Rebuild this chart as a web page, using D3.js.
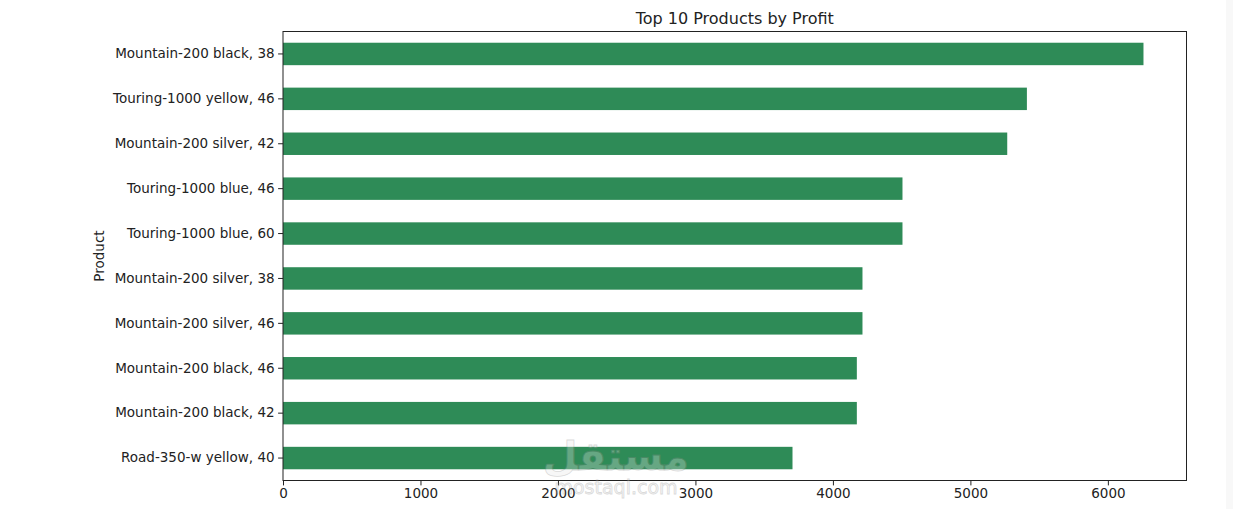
<!DOCTYPE html>
<html>
<head>
<meta charset="utf-8">
<script src="https://cdn.jsdelivr.net/npm/d3@7"></script>
<style>
  body { margin: 0; background: #fff; }
  svg { display: block; font-family: "DejaVu Sans", sans-serif; }
  .tick text { fill: #222; }
</style>
</head>
<body>
<svg id="chart" width="1233" height="509"></svg>
<script>
// Products, top to bottom as shown
const products = [
  'Mountain-200 black, 38',
  'Touring-1000 yellow, 46',
  'Mountain-200 silver, 42',
  'Touring-1000 blue, 46',
  'Touring-1000 blue, 60',
  'Mountain-200 silver, 38',
  'Mountain-200 silver, 46',
  'Mountain-200 black, 46',
  'Mountain-200 black, 42',
  'Road-350-w yellow, 40'
];
const profit = [6259, 5411, 5268, 4506, 4506, 4215, 4215, 4174, 4174, 3706];
const xTicks = [0, 1000, 2000, 3000, 4000, 5000, 6000];

const svg = d3.select('#chart');
const margin = { left: 283, top: 31.5, right: 46.5, bottom: 28.5 };
const width = 1233 - margin.left - margin.right;
const height = 509 - margin.top - margin.bottom;

// faint strip on the far right of the screenshot
svg.append('rect')
  .attr('x', 1226).attr('y', 0).attr('width', 7).attr('height', 509)
  .attr('fill', '#f8f8f8');

const g = svg.append('g').attr('transform', `translate(${margin.left},${margin.top})`);

// matplotlib-like 5% margin on the right
let x = d3.scaleLinear()
  .domain([0, d3.max(profit) * 1.05])
  .range([0, width]);

let y = d3.scaleBand()
  .domain(products)
  .range([0, height])
  .paddingInner(0.5)
  .paddingOuter(0.25);

g.selectAll('rect.bar')
  .data(d3.zip(products, profit))
  .enter()
  .append('rect')
    .attr('class', 'bar')
    .attr('x', x(0))
    .attr('y', d => y(d[0]))
    .attr('width', d => x(d[1]) - x(0))
    .attr('height', y.bandwidth())
    .attr('fill', '#2e8b57');

// Axes
let xAxis = g.append('g')
  .attr('transform', `translate(0,${height})`)
  .call(d3.axisBottom(x).tickValues(xTicks).tickFormat(d3.format('d')).tickSize(4.9).tickPadding(3.5));

let yAxis = g.append('g')
  .call(d3.axisLeft(y).tickSize(4.9).tickPadding(3.5));

[xAxis, yAxis].forEach(a => {
  a.attr('font-family', '"DejaVu Sans", sans-serif').attr('font-size', '13.5px');
  a.select('.domain').remove();
  a.selectAll('.tick line').attr('stroke', '#222').attr('stroke-width', 1);
});

// Frame
g.append('rect')
  .attr('x', 0).attr('y', 0)
  .attr('width', width).attr('height', height)
  .attr('fill', 'none')
  .attr('stroke', '#222')
  .attr('stroke-width', 1);

// Title and label
svg.append('text')
  .attr('x', margin.left + width / 2)
  .attr('y', margin.top - 8)
  .attr('text-anchor', 'middle')
  .attr('font-size', '16px')
  .attr('fill', '#222')
  .text('Top 10 Products by Profit');

svg.append('text')
  .attr('transform', `translate(104,${margin.top + height / 2}) rotate(-90)`)
  .attr('text-anchor', 'middle')
  .attr('font-size', '13.5px')
  .attr('fill', '#222')
  .text('Product');

// Watermark
let wm = svg.append('g').attr('opacity', 0.3).attr('fill', '#e8e8e8').attr('stroke', '#888').attr('stroke-width', 0.8);
wm.append('text')
  .attr('x', 616).attr('y', 470)
  .attr('text-anchor', 'middle')
  .attr('font-family', '"Noto Sans", "DejaVu Sans", sans-serif')
  .attr('font-weight', 'bold')
  .attr('font-size', '40px')
  .text('مستقل');
wm.append('text')
  .attr('x', 616).attr('y', 494)
  .attr('text-anchor', 'middle')
  .attr('font-size', '19px')
  .text('mostaql.com');
</script>
</body>
</html>
